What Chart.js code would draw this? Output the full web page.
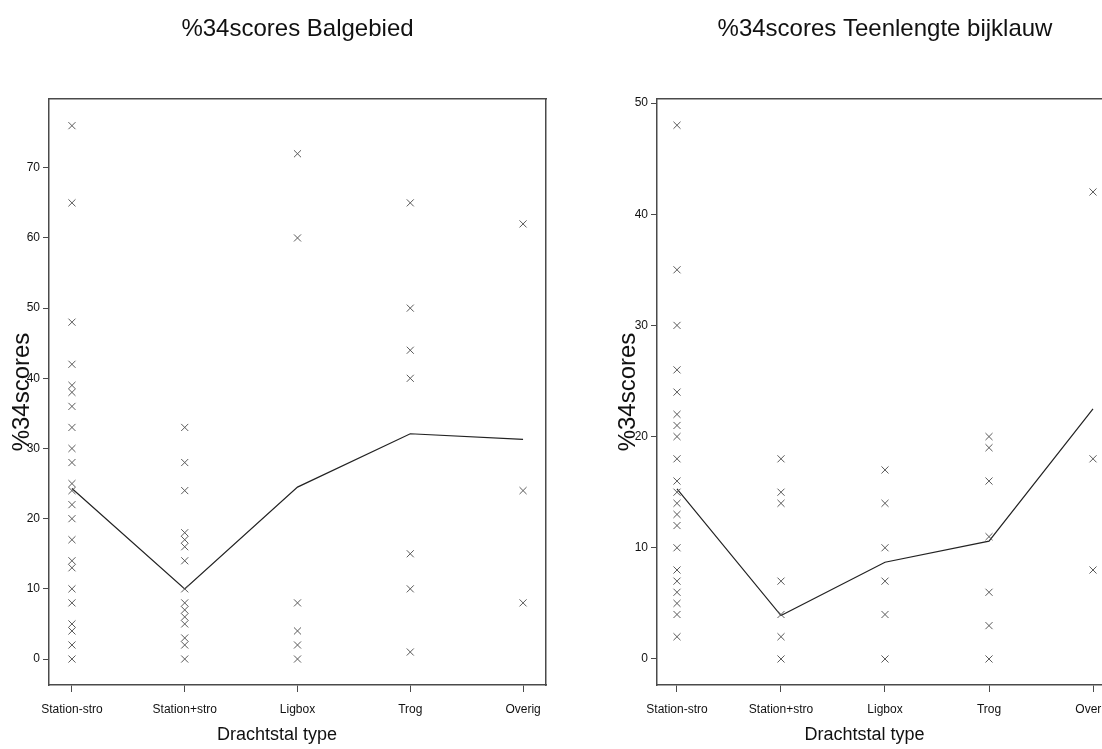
<!DOCTYPE html>
<html><head><meta charset="utf-8">
<script src="https://cdn.jsdelivr.net/npm/chart.js@4.4.1/dist/chart.umd.min.js"></script>
<style>
html,body{margin:0;padding:0;background:#fff;overflow:hidden;width:1102px;height:749px;}
#c1{position:absolute;left:0;top:0;}
#c2{position:absolute;left:600px;top:0;}
</style></head><body>
<canvas id="c1" width="554" height="749"></canvas>
<canvas id="c2" width="529" height="749"></canvas>
<script>
const categories = ['Station-stro', 'Station+stro', 'Ligbox', 'Trog', 'Overig'];
const xAxisTitle = 'Drachtstal type';
const yAxisTitle = '%34scores';

// Chart 1: %34scores Balgebied
const balTitle = '%34scores Balgebied';
const balStationMin = [76, 65, 48, 42, 39, 38, 36, 33, 30, 28, 25, 24, 22, 20, 17, 14, 13, 10, 8, 5, 4, 2, 0];
const balStationPlus = [33, 28, 24, 18, 17, 16, 14, 10, 8, 7, 6, 5, 3, 2, 0];
const balLigbox = [72, 60, 8, 4, 2, 0];
const balTrog = [65, 50, 44, 40, 15, 10, 1];
const balOverig = [62, 24, 8];
const balMeans = [24.3, 10, 24.5, 32.1, 31.3];
const balYTicks = [0, 10, 20, 30, 40, 50, 60, 70];

// Chart 2: %34scores Teenlengte bijklauw
const teenTitle = '%34scores Teenlengte bijklauw';
const teenStationMin = [48, 35, 30, 26, 24, 22, 21, 20, 18, 16, 15, 14, 13, 12, 10, 8, 7, 6, 5, 4, 2];
const teenStationPlus = [18, 15, 14, 7, 4, 2, 0];
const teenLigbox = [17, 14, 10, 7, 4, 0];
const teenTrog = [20, 19, 16, 11, 6, 3, 0];
const teenOverig = [42, 18, 8];
const teenMeans = [15.3, 3.9, 8.7, 10.6, 22.5];
const teenYTicks = [0, 10, 20, 30, 40, 50];

const REG = "'Liberation Sans', Arial, sans-serif";
const FRAME = '#4a4a4a';

function buildChart(id, opt) {
  const groups = opt.groups;
  const datasets = groups.map((vals, i) => ({
    label: categories[i],
    data: vals.map(v => ({x: i, y: v})),
    pointStyle: 'crossRot',
    pointRadius: 5,
    pointBorderColor: '#5a5a5a',
    pointBorderWidth: 1,
    showLine: false
  }));
  datasets.push({
    label: 'mean',
    data: opt.means.map((v, i) => ({x: i, y: v})),
    showLine: true,
    borderColor: '#222',
    borderWidth: 1.2,
    pointRadius: 0,
    tension: 0,
    fill: false
  });
  return new Chart(document.getElementById(id), {
    type: 'scatter',
    data: {datasets},
    options: {
      responsive: false,
      animation: false,
      layout: {padding: 0},
      plugins: {
        legend: {display: false},
        tooltip: {enabled: false},
        title: {
          display: true, text: opt.title, fullSize: false,
          color: '#111', font: {family: REG, size: 24, weight: 'normal'},
          padding: {top: 15, bottom: 55.2}
        },
        subtitle: {
          display: true, text: xAxisTitle, position: 'bottom', fullSize: true,
          color: '#111', font: {family: REG, size: 18, weight: 'normal'},
          padding: {top: 4, bottom: 3.4}
        }
      },
      scales: {
        x: {
          type: 'linear', position: 'bottom',
          min: -opt.xPad, max: categories.length - 1 + opt.xPad,
          afterBuildTicks: s => { s.ticks = categories.map((c, i) => ({value: i})); },
          afterFit: s => { s.height = 35; },
          ticks: {
            includeBounds: false, autoSkip: false, maxRotation: 0,
            padding: 10.5, color: '#111',
            font: {family: REG, size: 12},
            callback: v => categories[Math.round(v)]
          },
          grid: {display: true, drawOnChartArea: false, drawTicks: true, tickLength: 7, tickColor: FRAME, tickWidth: 1},
          border: {display: true, color: FRAME, width: 1.5}
        },
        x2: {
          type: 'linear', axis: 'x', position: 'top',
          min: -opt.xPad, max: categories.length - 1 + opt.xPad,
          afterFit: s => { s.height = 0; },
          ticks: {display: false},
          grid: {display: false, drawOnChartArea: false, drawTicks: false},
          border: {display: true, color: FRAME, width: 1.5}
        },
        y: {
          type: 'linear', position: 'left',
          min: opt.yMin, max: opt.yMax,
          afterBuildTicks: s => { s.ticks = opt.yTicks.map(v => ({value: v})); },
          afterFit: s => { s.width = opt.yWidth; },
          title: {
            display: true, text: yAxisTitle, color: '#111',
            font: {family: REG, size: 24, weight: 'normal'},
            padding: {top: opt.yTitlePad, bottom: 0}
          },
          ticks: {includeBounds: false, padding: 3, color: '#111', font: {family: REG, size: 12}},
          grid: {display: true, drawOnChartArea: false, drawTicks: true, tickLength: 6, tickColor: FRAME, tickWidth: 1},
          border: {display: true, color: FRAME, width: 1.5}
        },
        y2: {
          type: 'linear', axis: 'y', position: 'right',
          min: opt.yMin, max: opt.yMax,
          afterFit: s => { s.width = opt.y2Width; },
          ticks: {display: false},
          grid: {display: false, drawOnChartArea: false, drawTicks: false},
          border: {display: true, color: FRAME, width: 1.5}
        }
      }
    }
  });
}

buildChart('c1', {
  title: balTitle,
  groups: [balStationMin, balStationPlus, balLigbox, balTrog, balOverig],
  means: balMeans,
  yTicks: balYTicks,
  yMin: -3.7, yMax: 79.8,
  xPad: 0.2035,
  yWidth: 49, y2Width: 8, yTitlePad: 7.5
});

buildChart('c2', {
  title: teenTitle,
  groups: [teenStationMin, teenStationPlus, teenLigbox, teenTrog, teenOverig],
  means: teenMeans,
  yTicks: teenYTicks,
  yMin: -2.34, yMax: 50.36,
  xPad: 0.1923,
  yWidth: 57, y2Width: 16, yTitlePad: 13.6
});
</script>
</body></html>
